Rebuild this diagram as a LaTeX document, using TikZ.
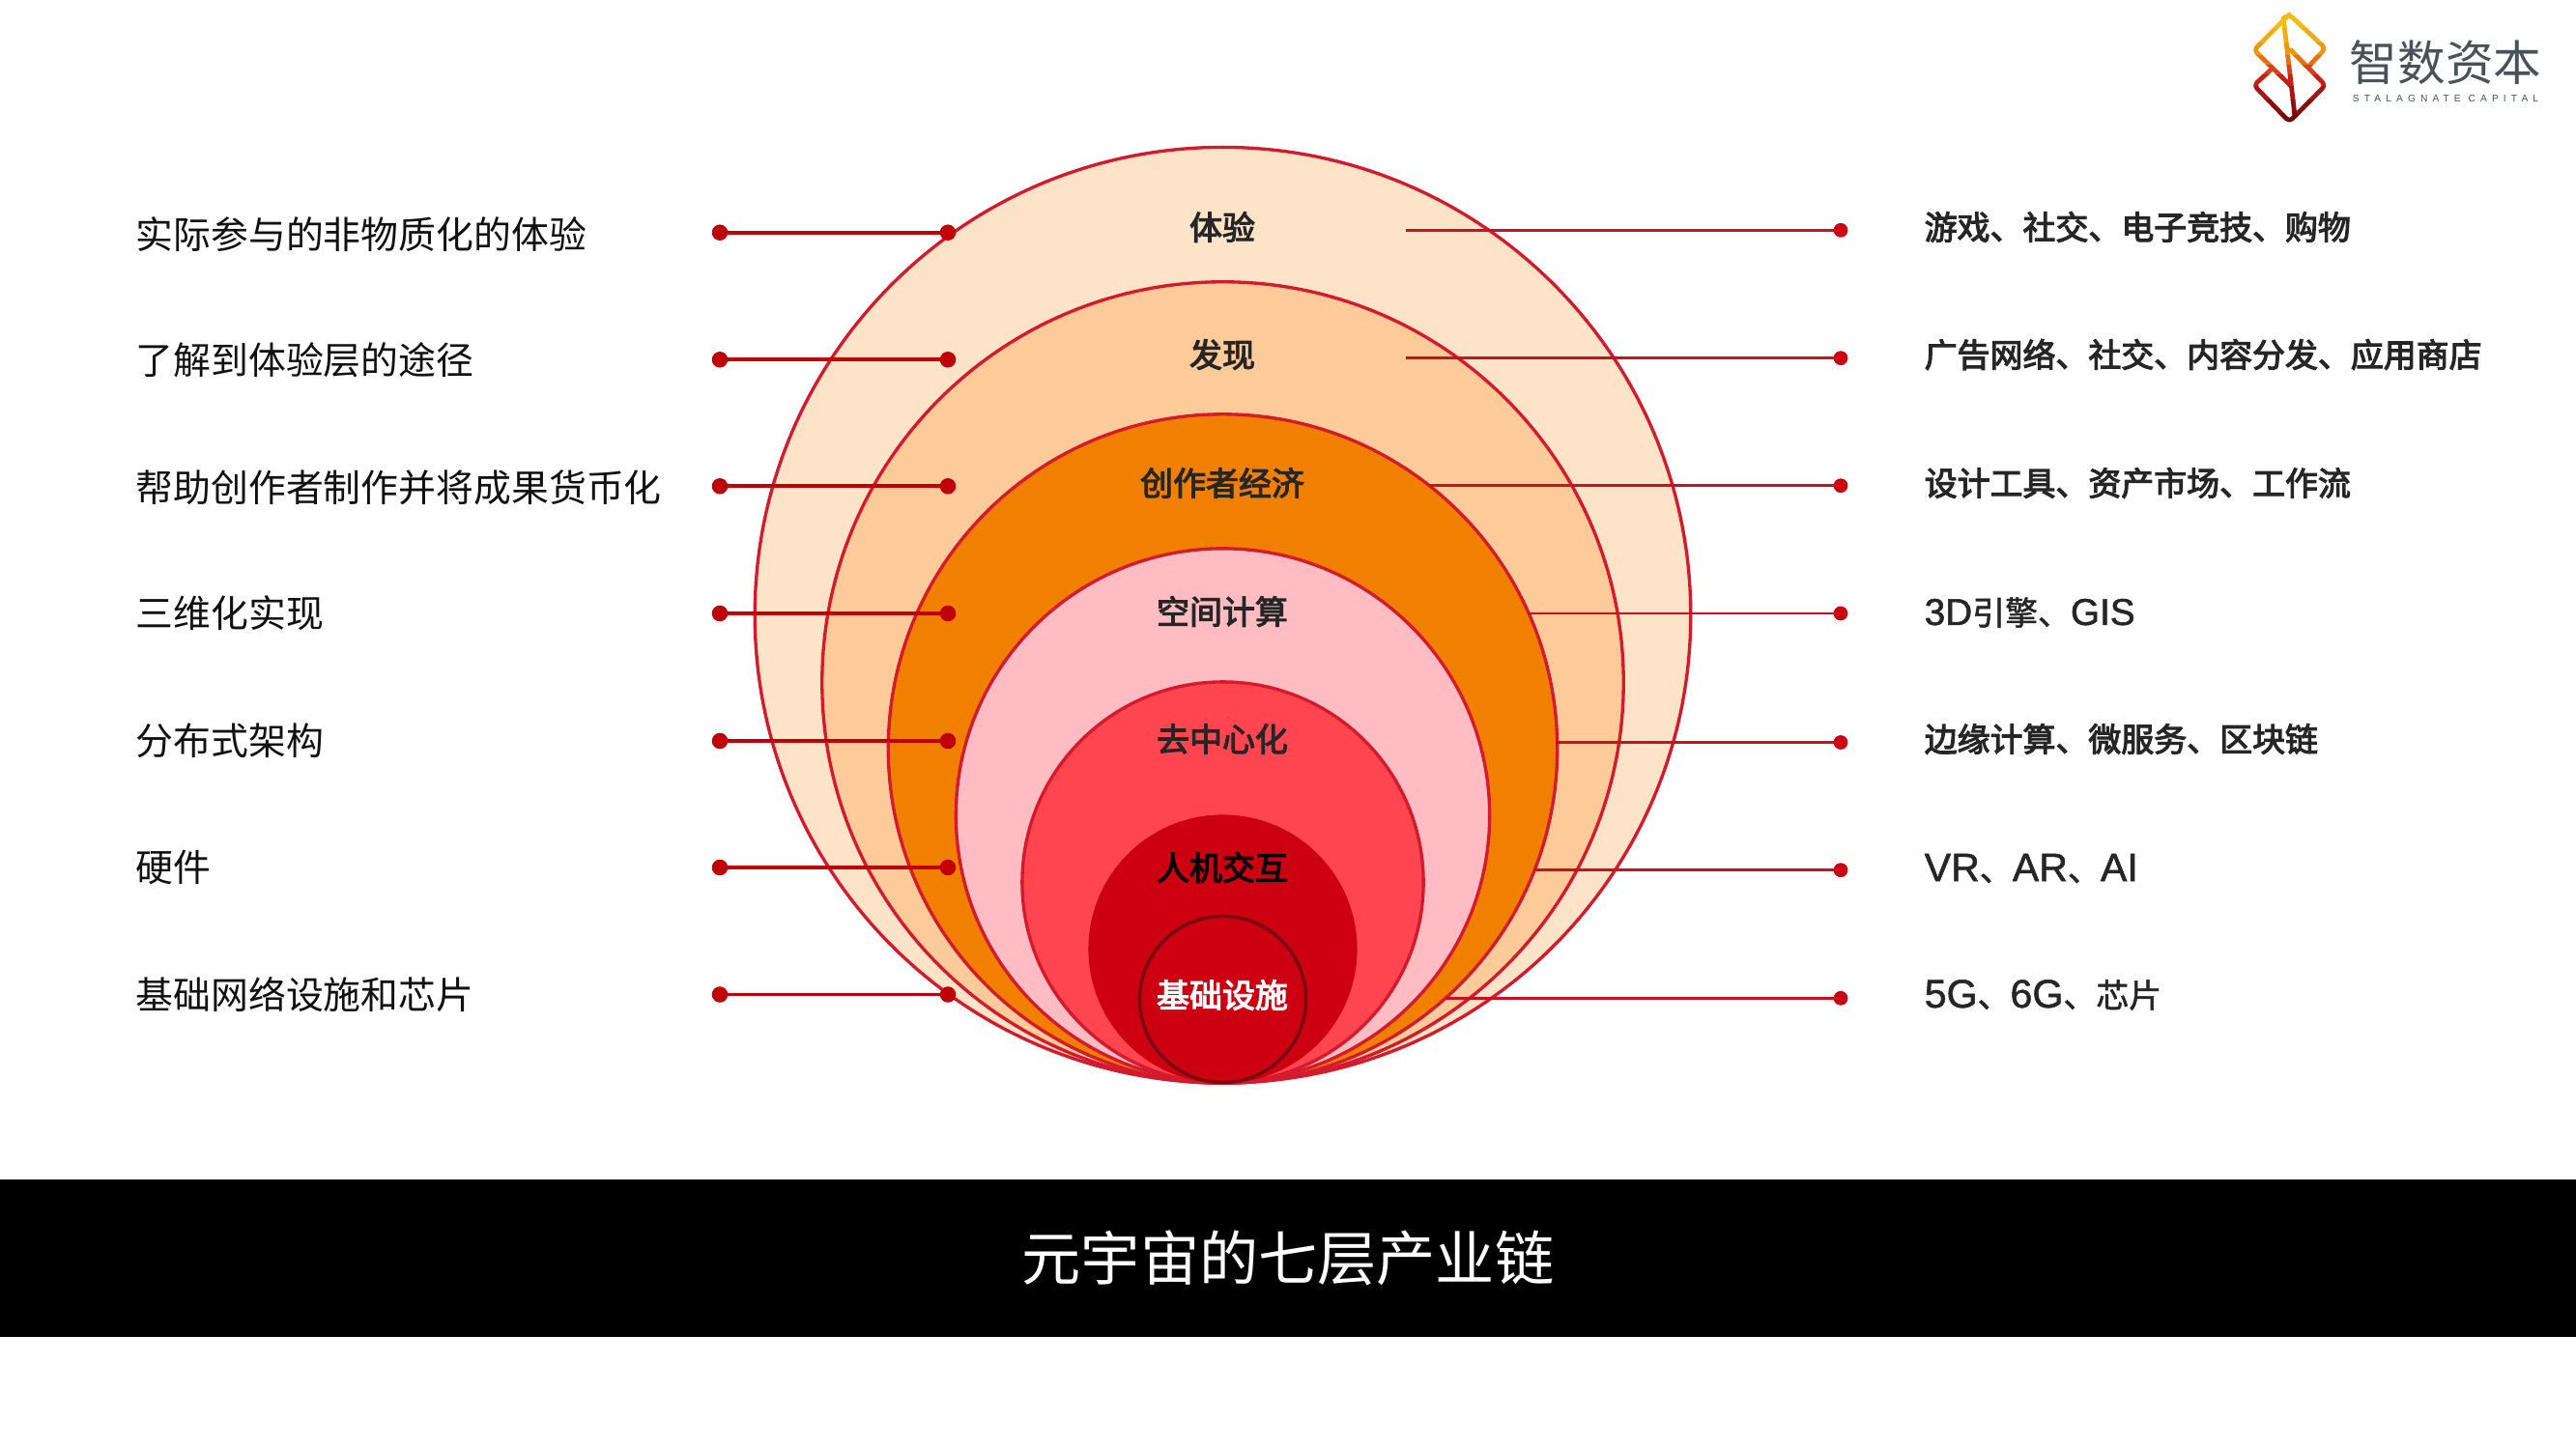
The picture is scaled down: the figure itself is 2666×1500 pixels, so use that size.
\documentclass[tikz,border=0pt]{standalone}
\usepackage{fontspec}
\setmainfont{Liberation Sans}
\newfontfamily\cjk{Noto Sans CJK SC}
\newfontfamily\ltnfont{Liberation Sans}
\newfontfamily\spaced[LetterSpace=50]{Liberation Sans}
\newcommand{\ltn}[1]{{\ltnfont\fontsize{11pt}{12pt}\selectfont #1}}
\newcommand{\ltnb}[1]{{\ltnfont\fontsize{11.7pt}{12pt}\selectfont #1}}
\newcommand{\heavier}[1]{\special{pdf:code 2 Tr 0.32 w}#1\special{pdf:code 0 Tr 1 w}}
\newcommand{\slightly}[1]{\special{pdf:code 2 Tr 0.15 w}#1\special{pdf:code 0 Tr 1 w}}
\definecolor{ringline}{HTML}{D41A2C}
\definecolor{leftred}{HTML}{C00008}
\definecolor{rightred}{HTML}{CC1020}
\definecolor{dotred}{HTML}{CC0010}
\definecolor{ltext}{HTML}{111111}
\definecolor{rtext}{HTML}{262626}
\definecolor{logotext}{HTML}{4A5158}
\definecolor{ringA}{HTML}{FDE3C8}
\definecolor{ringB}{HTML}{FDCB9A}
\definecolor{ringC}{HTML}{F28000}
\definecolor{ringD}{HTML}{FFBCC2}
\definecolor{ringE}{HTML}{FF4650}
\definecolor{ringF}{HTML}{CC0010}
\definecolor{ringG}{HTML}{7A0A10}
\tikzset{
  ring/.style={circle,draw=ringline,line width=0.95pt,inner sep=0pt,outer sep=0pt},
  ringname/.style={font=\cjk\fontsize{9.65pt}{11pt}\selectfont,text=#1,inner sep=0pt},
  ringname/.default=rtext,
  lefttext/.style={anchor=west,inner sep=0pt,text=ltext,font=\cjk\fontsize{11.05pt}{13pt}\selectfont},
  righttext/.style={anchor=west,inner sep=0pt,text=rtext,font=\cjk\fontsize{9.65pt}{11pt}\selectfont},
  ldot/.style={circle,fill=leftred,inner sep=0pt,outer sep=0pt,minimum size=4.7pt},
  rdot/.style={circle,fill=dotred,inner sep=0pt,outer sep=0pt,minimum size=4.2pt},
  lconn/.style={draw=leftred,line width=1.05pt},
  rconn/.style={draw=rightred,line width=0.75pt},
  logostroke/.style={line width=1.35pt,rounded corners=1.2pt,line cap=round,line join=round}
}
\begin{document}
\begin{tikzpicture}[x=0.01cm,y=-0.01cm]
\useasboundingbox[fill=white] (0,0) rectangle (2666,1500);
% nested rings
\node[ring,fill=ringA,minimum size=9.68cm] (r1) at (1265.5,636.7) {};
\node[ring,fill=ringB,minimum size=8.29cm] (r2) at (1265.5,706.5) {};
\node[ring,fill=ringC,minimum size=6.92cm] (r3) at (1265.5,775) {};
\node[ring,fill=ringD,minimum size=5.52cm] (r4) at (1265.5,844) {};
\node[ring,fill=ringE,minimum size=4.15cm] (r5) at (1265.5,913.5) {};
\node[circle,fill=ringF,inner sep=0pt,outer sep=0pt,minimum size=2.78cm] (r6) at (1265.5,982.5) {};
\node[circle,draw=ringG,line width=1pt,fill=ringF,inner sep=0pt,outer sep=0pt,minimum size=1.72cm] (r7) at (1265.5,1034.5) {};
% ring names
\node[ringname] (n1) at (1265,235) {\heavier{体验}};
\node[ringname] (n2) at (1265,367) {\heavier{发现}};
\node[ringname] (n3) at (1265,500) {\heavier{创作者经济}};
\node[ringname] (n4) at (1265,633) {\heavier{空间计算}};
\node[ringname] (n5) at (1265,765) {\heavier{去中心化}};
\node[ringname=black] (n6) at (1265,898) {\heavier{人机交互}};
\node[ringname=white] (n7) at (1265,1030) {\heavier{基础设施}};
% left labels
\node[lefttext] (l1) at (140,243) {实际参与的非物质化的体验};
\node[lefttext] (l2) at (140,373) {了解到体验层的途径};
\node[lefttext] (l3) at (140,505) {帮助创作者制作并将成果货币化};
\node[lefttext] (l4) at (140,635) {三维化实现};
\node[lefttext] (l5) at (140,767) {分布式架构};
\node[lefttext] (l6) at (140,898) {硬件};
\node[lefttext] (l7) at (140,1030) {基础网络设施和芯片};
% left connectors
\foreach \i/\yy in {1/240.7,2/372.3,3/503.3,4/635,5/767,6/898,7/1029.5}{
  \node[ldot] (la\i) at (745,\yy) {};
  \node[ldot] (lb\i) at (981,\yy) {};
  \draw[lconn] (la\i.center) -- (lb\i.center);
}
% right connectors
\foreach \i/\xs/\yy in {1/1455/238.3,2/1455/370.7,3/1480/502.7,4/1581/635,5/1610/768.5,6/1587.5/900.7,7/1496/1033.3}{
  \coordinate (rs\i) at (\xs,\yy);
  \node[rdot] (re\i) at (1905,\yy) {};
  \draw[rconn] (rs\i) -- (re\i.center);
}
% right labels
\node[righttext] (t1) at (1991,235) {\heavier{游戏、社交、电子竞技、购物}};
\node[righttext] (t2) at (1991,367) {\heavier{广告网络、社交、内容分发、应用商店}};
\node[righttext] (t3) at (1991,500) {\heavier{设计工具、资产市场、工作流}};
\node[righttext] (t4) at (1991,634) {\slightly{\ltn{3D}引擎、\ltn{GIS}}};
\node[righttext] (t5) at (1991,765) {\heavier{边缘计算、微服务、区块链}};
\node[righttext] (t6) at (1991,899) {\slightly{\ltnb{VR}、\ltnb{AR}、\ltnb{AI}}};
\node[righttext] (t7) at (1991,1030) {\slightly{\ltnb{5G}、\ltnb{6G}、芯片}};
% title bar
\node[fill=black,text=white,minimum width=26.66cm,minimum height=1.625cm,inner sep=0pt,outer sep=0pt,
      font=\cjk\fontsize{17.4pt}{20pt}\selectfont] (bar) at (1333,1302.5) {元宇宙的七层产业链};
% logo: one drawing cut into horizontal bands to give its vertical colour run
\foreach \ya/\yb/\col in {8/30/F2BC12,30/45/F0AE10,45/58/EE960C,58/68/E87010,68/78/D8401C,78/90/C42018,90/104/AA1414,104/118/8E0E0E,118/135/760A0A}{
  \definecolor{lg}{HTML}{\col}
  \begin{scope}
    \clip (2320,\ya) rectangle (2420,\yb);
    \draw[logostroke,draw=lg] (2363,19) -- (2369.3,15) -- (2406.7,50) -- (2390,68);
    \draw[logostroke,draw=lg] (2369.3,15) -- (2332.7,51.7) -- (2370,88);
    \draw[logostroke,draw=lg] (2363.3,20) -- (2375,120);
    \draw[logostroke,draw=lg] (2350.7,71.7) -- (2332.7,88.3) -- (2369.3,126) -- (2406.7,88.3) -- (2370.7,51.7);
  \end{scope}
}
\node[inner sep=0pt,text=logotext,font=\cjk\fontsize{14.1pt}{16pt}\selectfont] (lg1) at (2531,65) {智数资本};
\node[inner sep=0pt,text=logotext,font=\spaced\fontsize{2.9pt}{4pt}\selectfont] (lg2) at (2531,101.5) {STALAGNATE CAPITAL};
\end{tikzpicture}
\end{document}
